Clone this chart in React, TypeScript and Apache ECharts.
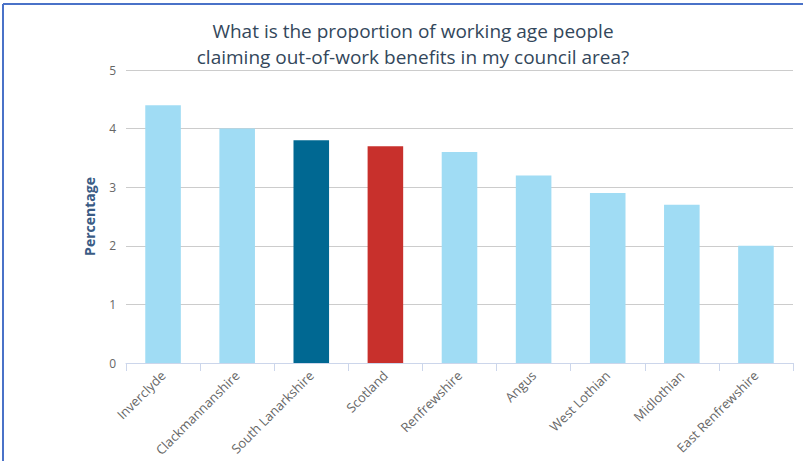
import React, { useEffect, useRef } from "react";
import * as echarts from "echarts";

const categories = [
  "Inverclyde",
  "Clackmannanshire",
  "South Lanarkshire",
  "Scotland",
  "Renfrewshire",
  "Angus",
  "West Lothian",
  "Midlothian",
  "East Renfrewshire",
];
const values = [4.4, 4.0, 3.8, 3.7, 3.6, 3.2, 2.9, 2.7, 2.0];
const barColors = [
  "#a0dcf4",
  "#a0dcf4",
  "#006892",
  "#c8302c",
  "#a0dcf4",
  "#a0dcf4",
  "#a0dcf4",
  "#a0dcf4",
  "#a0dcf4",
];
const titleLines = [
  "What is the proportion of working age people",
  "claiming out-of-work benefits in my council area?",
];
const yAxisName = "Percentage";

export default function App() {
  const ref = useRef<HTMLDivElement>(null);
  useEffect(() => {
    document.body.style.margin = "0";
    const chart = echarts.init(ref.current!, null, { renderer: "svg" });
    const titleStyle = {
      fontFamily: "Open Sans",
      fontSize: 19,
      fontWeight: "normal",
      color: "#33475b",
      lineHeight: 26,
    };
    chart.setOption({
      animation: false,
      backgroundColor: "#ffffff",
      title: titleLines.map((t, i) => ({
        text: t,
        left: 413,
        top: 18 + i * 26,
        textAlign: "center",
        padding: 0,
        textStyle: titleStyle,
      })),
      graphic: [
        {
          type: "line",
          shape: { x1: 3, y1: 4, x2: 803, y2: 4 },
          style: { stroke: "#4a72c8", lineWidth: 2 },
        },
        {
          type: "line",
          shape: { x1: 3, y1: 4, x2: 3, y2: 461 },
          style: { stroke: "#4a72c8", lineWidth: 2 },
        },
      ],
      grid: { left: 126, right: 10, top: 70, bottom: 98, containLabel: false },
      xAxis: {
        type: "category",
        data: categories,
        axisLine: { lineStyle: { color: "#ccd6eb" } },
        axisTick: { show: true, alignWithLabel: false, length: 8, lineStyle: { color: "#ccd6eb" } },
        axisLabel: {
          rotate: 45,
          fontFamily: "Open Sans",
          fontSize: 13,
          color: "#666666",
          margin: 10,
          interval: 0,
        },
      },
      yAxis: {
        type: "value",
        min: 0,
        max: 5,
        interval: 1,
        name: yAxisName,
        nameLocation: "middle",
        nameGap: 30,
        nameTextStyle: {
          fontFamily: "Open Sans",
          fontSize: 14,
          fontWeight: "bold",
          color: "#3a5b85",
        },
        axisLine: { show: false },
        axisTick: { show: false },
        axisLabel: {
          fontFamily: "Open Sans",
          fontSize: 12,
          color: "#666666",
          margin: 10,
        },
        splitLine: { lineStyle: { color: "#cccccc" } },
      },
      series: [
        {
          type: "bar",
          data: values.map((v, i) => ({ value: v, itemStyle: { color: barColors[i] } })),
          barWidth: "48%",
        },
      ],
    });
    return () => chart.dispose();
  }, []);
  return <div ref={ref} style={{ width: 803, height: 461 }} />;
}
